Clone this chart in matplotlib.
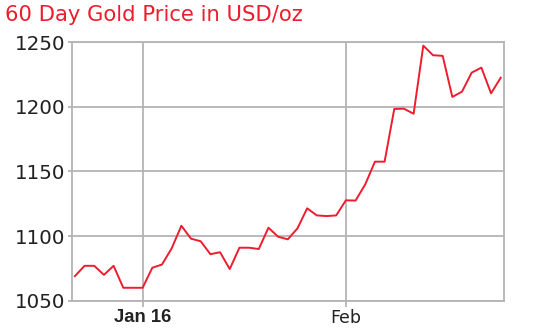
import matplotlib
matplotlib.use("Agg")
import matplotlib.pyplot as plt

# Цены золота (USD/oz), по торговым дням
prices = [1069, 1077, 1077, 1070, 1077, 1060, 1060, 1060, 1075.5, 1078,
          1090.5, 1108, 1098, 1096, 1086, 1087.5, 1074.5, 1091, 1091, 1090,
          1106.5, 1099.5, 1097.5, 1106, 1121.5, 1116, 1115.5, 1116, 1127.7, 1127.5,
          1140, 1157.6, 1157.6, 1198.4, 1198.6, 1194.7, 1247.4, 1240, 1239.5, 1207.7,
          1211.8, 1226.5, 1230.4, 1210.5, 1222.6]
days = list(range(len(prices)))
xtick_pos = [7, 28]
xtick_labels = ['Jan 16', 'Feb']
yticks = [1050, 1100, 1150, 1200, 1250]

grid_color = '#b4b4b4'

fig = plt.figure(figsize=(5.34, 3.34), dpi=100)
ax = fig.add_axes([0.1348, 0.0997, 0.8096, 0.7737])

ax.plot(days, prices, color='#ee1c2e', linewidth=1.4, zorder=3)

ax.set_xlim(-0.3, 44.37)
ax.set_ylim(1050, 1250)
ax.set_yticks(yticks)
ax.set_xticks(xtick_pos)
ax.set_xticklabels(xtick_labels, color='#222222')
jan, feb = ax.get_xticklabels()
jan.set_fontfamily('Liberation Sans')
jan.set_fontweight('bold')
jan.set_fontsize(13.3)
feb.set_fontsize(12.5)
for lbl in ax.get_yticklabels():
    lbl.set_fontsize(14.3)
    lbl.set_color('#222222')

ax.grid(True, color=grid_color, linewidth=1.3)
for s in ax.spines.values():
    s.set_color(grid_color)
    s.set_linewidth(1.3)
ax.tick_params(axis='x', length=4, color=grid_color, width=1.3, pad=2)
ax.tick_params(axis='y', length=3, color=grid_color, width=1.3, pad=2)

fig.text(0.009, 0.955, '60 Day Gold Price in USD/oz', color='#ee1c2e',
         fontsize=15.2, va='center', ha='left')

fig.savefig('out.png', dpi=100)
